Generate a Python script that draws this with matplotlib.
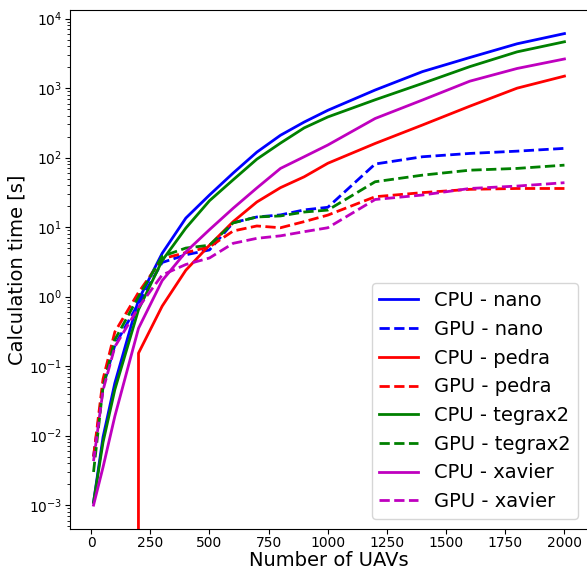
import matplotlib
matplotlib.use('Agg')
import matplotlib.pyplot as plt

# number of UAVs in each run
n_uavs = [10, 50, 100, 200, 300, 400, 500, 600, 700, 800, 900, 1000,
          1200, 1400, 1600, 1800, 2000]

# calculation times in seconds
cpu_nano = [0.0011, 0.0095, 0.057, 0.9, 4.2, 13.5, 29, 60, 120, 210, 325, 480,
            940, 1730, 2760, 4350, 6100]
gpu_nano = [0.005, 0.05, 0.2, 0.8, 3.1, 4.0, 4.7, 11.6, 14, 15, 17.7, 19.3,
            81, 103, 115, 124, 136]
cpu_pedra = [0, 0, 0, 0.154, 0.73, 2.4, 5.5, 12, 23, 37, 53, 83,
             160, 295, 550, 1000, 1490]
gpu_pedra = [0.005, 0.065, 0.31, 1.15, 3.5, 4.3, 5.2, 8.8, 10.4, 9.8, 12, 14.9,
             27.4, 31.4, 35, 36, 36]
cpu_tegrax2 = [0.0011, 0.008, 0.046, 0.65, 3.3, 9.7, 24, 48, 95, 162, 268, 385,
               680, 1170, 2040, 3330, 4650]
gpu_tegrax2 = [0.003, 0.05, 0.24, 1.0, 3.8, 5.0, 5.5, 11.5, 14, 14.5, 16.5, 17.6,
               45, 56, 66, 70, 78]
cpu_xavier = [0.001, 0.0035, 0.019, 0.35, 1.7, 4.4, 9.2, 18.7, 36.6, 70, 103, 152,
              366, 675, 1260, 1920, 2630]
gpu_xavier = [0.0043, 0.045, 0.19, 0.7, 2.05, 2.9, 3.6, 5.85, 6.9, 7.5, 8.6, 9.8,
              25, 29, 36, 39, 43.6]

fig = plt.figure(figsize=(5.87, 5.67), dpi=100)
ax = fig.add_axes([70 / 587, 38.3 / 567, 518 / 587, 518.7 / 567])

ax.plot(n_uavs, cpu_nano, 'b-', lw=2, label='CPU - nano')
ax.plot(n_uavs, gpu_nano, 'b--', lw=2, label='GPU - nano')
ax.plot(n_uavs, cpu_pedra, 'r-', lw=2, label='CPU - pedra')
ax.plot(n_uavs, gpu_pedra, 'r--', lw=2, label='GPU - pedra')
ax.plot(n_uavs, cpu_tegrax2, 'g-', lw=2, label='CPU - tegrax2')
ax.plot(n_uavs, gpu_tegrax2, 'g--', lw=2, label='GPU - tegrax2')
ax.plot(n_uavs, cpu_xavier, 'm-', lw=2, label='CPU - xavier')
ax.plot(n_uavs, gpu_xavier, 'm--', lw=2, label='GPU - xavier')

ax.set_yscale('log')
ax.set_xlabel('Number of UAVs', fontsize=14, labelpad=0.5)
ax.set_ylabel('Calculation time [s]', fontsize=14, labelpad=1.5)
ax.tick_params(axis='both', which='major', labelsize=10, length=3.5, pad=2)
ax.tick_params(axis='both', which='minor', length=2)
ax.legend(loc='lower right', fontsize=14)

fig.savefig('out.png', dpi=100)
